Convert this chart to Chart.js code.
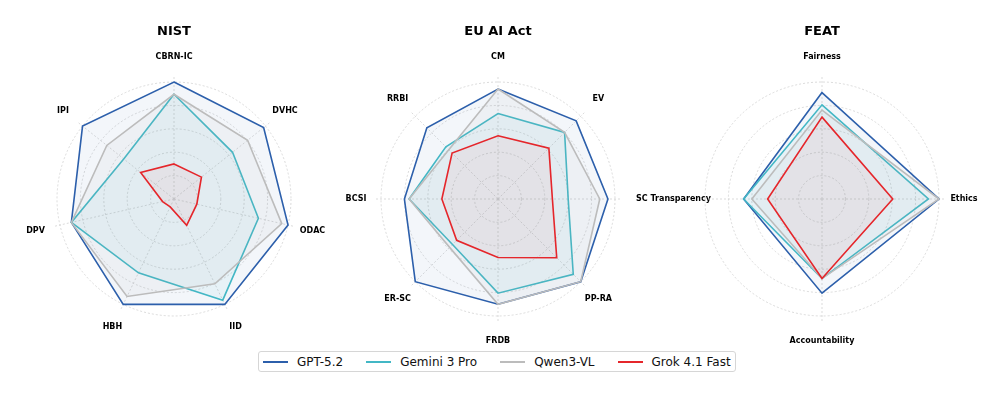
<!DOCTYPE html>
<html>
<head>
<meta charset="utf-8">
<script src="https://cdn.jsdelivr.net/npm/chart.js@4.4.1/dist/chart.umd.min.js"></script>
<style>
  body { margin: 0; background: #fff; font-family: "DejaVu Sans", sans-serif; }
  #wrap { position: relative; width: 996px; height: 399px; overflow: hidden; }
  #wrap canvas { position: absolute; left: 0; top: 0; }
  #legend {
    position: absolute; left: 258px; top: 351px; height: 21px; width: 478px;
    border: 1px solid #d6d6d6; border-radius: 3px; background: #fff;
    display: flex; align-items: center; box-sizing: border-box; padding-left: 4px;
    font-size: 12px; color: #111;
  }
  .item { display: flex; align-items: center; margin-right: 23px; }
  .item:last-child { margin-right: 0; }
  .swatch { display: inline-block; width: 25px; height: 2px; margin-right: 9px; }
</style>
</head>
<body>
<div id="wrap">
  <canvas id="nist" width="996" height="399"></canvas>
  <canvas id="eu" width="996" height="399"></canvas>
  <canvas id="feat" width="996" height="399"></canvas>
  <div id="legend"></div>
</div>
<script>
const modelNames = ["GPT-5.2", "Gemini 3 Pro", "Qwen3-VL", "Grok 4.1 Fast"];
const panelTitles = ["NIST", "EU AI Act", "FEAT"];

// NIST
const nistLabels = ["CBRN-IC", "DVHC", "ODAC", "IID", "HBH", "DPV", "IPI"];
const nistGpt = [100, 98, 100, 100, 100, 90, 100];
const nistGemini = [89.5, 64, 74, 96, 70, 90, 55];
const nistQwen = [89.5, 80.5, 94.5, 80.5, 92.5, 90, 73.5];
const nistGrok = [30, 30, 20, 25, 7.5, 10, 36.5];

// EU AI Act
const euLabels = ["CM", "EV", "SC Transparency", "PP-RA", "FRDB", "ER-SC", "BCSI", "RRBI"];
const euGpt = [94, 94.5, 94, 100, 90, 100, 80, 86];
const euGemini = [73, 80.5, 60, 91, 80.5, 55, 76, 63];
const euQwen = [94, 80.5, 87, 100, 90, 58.5, 76, 59.5];
const euGrok = [54, 61.5, 46.5, 71, 50, 50, 48, 55.5];

// FEAT
const featLabels = ["Fairness", "Ethics", "Accountability", "Transparency"];
const featGpt = [91, 100, 80.5, 67];
const featGemini = [80.5, 91, 68, 67];
const featQwen = [76, 100, 68, 60];
const featGrok = [70, 60.5, 68, 46.5];

const ringValues = [0, 20, 40, 60, 80, 100];

const lineColors = ["#2c5fab", "#43b7c5", "#bcbcbc", "#e5262b"];
const fillColors = ["rgba(44,95,171,0.06)", "rgba(67,183,197,0.07)", "rgba(160,160,160,0.08)", "rgba(229,38,43,0.05)"];

// titles + axis labels drawn on the canvas
const axisText = {
  id: "axisText",
  afterDraw(chart, args, opts) {
    const ctx = chart.ctx;
    const r = chart.scales.r;
    ctx.save();
    ctx.fillStyle = "#000";
    ctx.textBaseline = "middle";
    ctx.textAlign = "center";
    ctx.font = "bold 13px 'DejaVu Sans'";
    ctx.fillText(opts.title, r.xCenter, 31.5);
    ctx.font = "bold 8px 'DejaVu Sans'";
    chart.data.labels.forEach((label, i) => {
      const o = (opts.overrides || {})[i] || {};
      if (o.hide) return; // sits under the neighbour panel's label
      const p = r.getPointPosition(i, o.dist || 142);
      ctx.textAlign = o.align || "center";
      ctx.fillText(label, p.x, p.y);
    });
    ctx.restore();
  }
};

function makeRadar(id, labels, series, title, cx, cy, overrides) {
  const half = 124;
  new Chart(document.getElementById(id), {
    type: "radar",
    data: {
      labels: labels,
      datasets: series.map((vals, i) => ({
        label: modelNames[i],
        data: vals,
        borderColor: lineColors[i],
        backgroundColor: fillColors[i],
        borderWidth: 1.6,
        fill: true,
        pointRadius: 0,
        pointHoverRadius: 0,
        order: series.length - i
      }))
    },
    options: {
      responsive: false,
      animation: false,
      layout: {
        padding: { left: cx - half, top: cy - half, right: 996 - cx - half, bottom: 399 - cy - half }
      },
      plugins: {
        legend: { display: false },
        tooltip: { enabled: false },
        axisText: { title: title, overrides: overrides }
      },
      scales: {
        r: {
          min: 0,
          max: 106,
          afterBuildTicks: (scale) => { scale.ticks = ringValues.map(v => ({ value: v })); },
          ticks: { display: false },
          pointLabels: { display: false },
          grid: { color: "#d2d2d2", lineWidth: 0.8, circular: true },
          border: { dash: [2, 2] },
          angleLines: { color: "#d2d2d2", lineWidth: 0.8, borderDash: [2, 2] }
        }
      }
    },
    plugins: [axisText]
  });
}

makeRadar("nist", nistLabels, [nistGpt, nistGemini, nistQwen, nistGrok], panelTitles[0], 174, 199, {});
makeRadar("eu", euLabels, [euGpt, euGemini, euQwen, euGrok], panelTitles[1], 498, 199,
  { 2: { align: "right", dist: 213 } });
makeRadar("feat", featLabels, [featGpt, featGemini, featQwen, featGrok], panelTitles[2], 822, 199,
  { 3: { hide: true } });

// shared legend
const legend = document.getElementById("legend");
modelNames.forEach((name, i) => {
  const item = document.createElement("div");
  item.className = "item";
  item.innerHTML = `<span class="swatch" style="background:${lineColors[i]}"></span><span>${name}</span>`;
  legend.appendChild(item);
});
</script>
</body>
</html>
